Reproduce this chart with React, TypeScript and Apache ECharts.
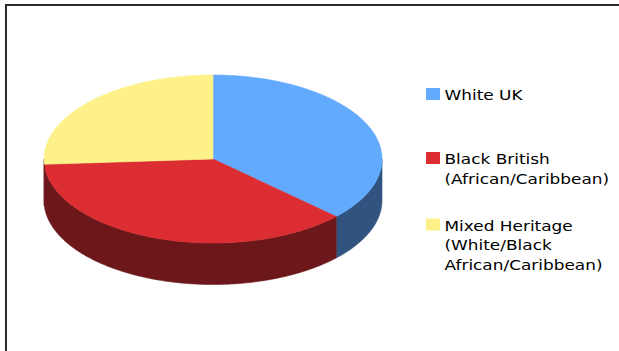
import React, { useEffect, useRef } from "react";
import * as echarts from "echarts";

// ---- data ----
const CATEGORIES = [
  "White UK",
  "Black British (African/Caribbean)",
  "Mixed Heritage (White/Black African/Caribbean)",
];
const LEGEND_LINES = [
  ["White UK"],
  ["Black British", "(African/Caribbean)"],
  ["Mixed Heritage", "(White/Black", "African/Caribbean)"],
];
const VALUES = [37, 37, 26];

// ---- styles ----
const TOP_COLORS = ["#62AAFD", "#DC2D33", "#FFF18A"];
const SIDE_COLORS = ["#30547F", "#6C171A", "#6C171A"];

const CX = 213;
const CY = 159;
const RX = 169;
const RY = 84;
const DEPTH = 41.5;

function pt(t: number, dy: number): number[] {
  return [CX + RX * Math.sin(t), CY - RY * Math.cos(t) + dy];
}

function arc(a: number, b: number, dy: number): number[][] {
  const pts: number[][] = [];
  const n = Math.max(2, Math.ceil(((b - a) / Math.PI) * 360));
  for (let k = 0; k <= n; k++) pts.push(pt(a + ((b - a) * k) / n, dy));
  return pts;
}

function renderSlice(params: any, api: any) {
  const i = params.seriesIndex;
  const total = VALUES.reduce((s, v) => s + v, 0);
  const before = VALUES.slice(0, i).reduce((s, v) => s + v, 0);
  const value = api.value(0);
  const t0 = (before / total) * Math.PI * 2;
  const t1 = t0 + (value / total) * Math.PI * 2;
  const children: any[] = [];
  const a = Math.max(t0, Math.PI / 2);
  const b = Math.min(t1, (Math.PI * 3) / 2);
  if (b > a) {
    const top = arc(a, b, 0);
    const bottom = arc(a, b, DEPTH).reverse();
    children.push({
      type: "polygon",
      shape: { points: top.concat(bottom) },
      style: { fill: SIDE_COLORS[i], stroke: SIDE_COLORS[i], lineWidth: 0.6 },
    });
  }
  children.push({
    type: "polygon",
    shape: { points: [[CX, CY]].concat(arc(t0, t1, 0)) },
    style: { fill: TOP_COLORS[i], stroke: TOP_COLORS[i], lineWidth: 0.6 },
  });
  return { type: "group", children };
}

const CAP_TOPS = [89.5, 153.5, 220];

export default function App() {
  const ref = useRef<HTMLDivElement>(null);
  useEffect(() => {
    document.body.style.margin = "0";
    const chart = echarts.init(ref.current!, undefined, { renderer: "svg" });
    const legendGraphics: any[] = [];
    LEGEND_LINES.forEach((lines, i) => {
      legendGraphics.push({
        type: "rect",
        shape: { x: 426, y: CAP_TOPS[i] - 1.5, width: 14, height: 12 },
        style: { fill: TOP_COLORS[i] },
      });
      legendGraphics.push({
        type: "text",
        x: 444.5,
        y: CAP_TOPS[i] - 3.5,
        scaleX: 1.21,
        style: {
          text: lines.join("\n"),
          fill: "#000",
          font: "14px 'DejaVu Sans', Verdana, sans-serif",
          lineHeight: 19.6,
          verticalAlign: "top",
        },
      });
    });
    chart.setOption({
      animation: false,
      backgroundColor: "#fff",
      series: VALUES.map((v, i) => ({
        type: "custom",
        name: CATEGORIES[i],
        coordinateSystem: "none",
        renderItem: renderSlice,
        data: [[v]],
        silent: true,
      })),
      graphic: [
        {
          type: "polyline",
          shape: { points: [[6, 351], [6, 5], [619, 5]] },
          style: { stroke: "#2a2a2a", lineWidth: 2, fill: null },
        },
        ...legendGraphics,
      ],
    });
    return () => chart.dispose();
  }, []);
  return (
    <div
      ref={ref}
      style={{ position: "absolute", left: 0, top: 0, width: 619, height: 351 }}
    />
  );
}
